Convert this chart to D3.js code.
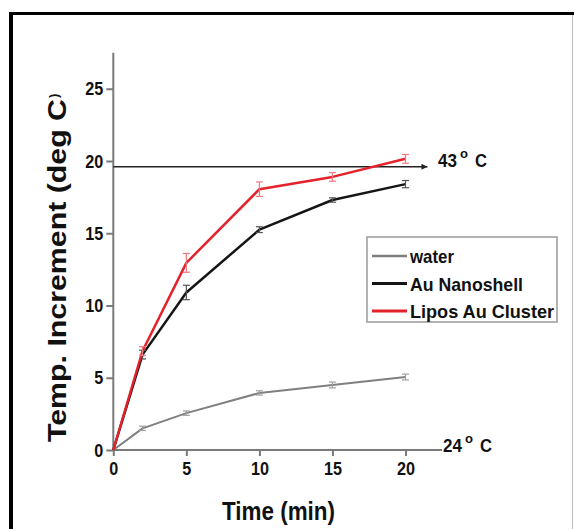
<!DOCTYPE html>
<html>
<head>
<meta charset="utf-8">
<script src="https://cdn.jsdelivr.net/npm/d3@7"></script>
<style>
  body { margin: 0; background: #fff; }
  .narrow { font-family: "Liberation Sans", Arial, sans-serif; font-weight: bold; }
</style>
</head>
<body>
<svg id="chart"></svg>
<script>
// time points (min)
const times = [0, 2, 5, 10, 15, 20];
// temperature increment (deg C)
const water = [0, 1.5, 2.55, 3.95, 4.5, 5.05];
const nanoshell = [0, 6.6, 10.9, 15.25, 17.3, 18.4];
const lipos = [0, 6.85, 12.95, 18.05, 18.9, 20.15];
// error bar half widths
const waterErr = [0, 0.15, 0.15, 0.15, 0.2, 0.2];
const nanoshellErr = [0, 0.3, 0.5, 0.2, 0.15, 0.25];
const liposErr = [0, 0.3, 0.65, 0.5, 0.3, 0.3];
const xTicks = [0, 5, 10, 15, 20];
const yTicks = [0, 5, 10, 15, 20, 25];
const thresholdValue = 19.6;

const series = [
    { name: 'water', values: water, err: waterErr, color: '#7f7f7f', errColor: '#a0a0a0', width: 2, textLen: 44 },
    { name: 'Au Nanoshell', values: nanoshell, err: nanoshellErr, color: '#151515', errColor: '#555', width: 2.5, textLen: 113 },
    { name: 'Lipos Au Cluster', values: lipos, err: liposErr, color: '#e3222b', errColor: '#ee7a80', width: 2.5, textLen: 144 }
];

const W = 574, H = 529;
const svg = d3.select('#chart').attr('width', W).attr('height', H);

// frame
svg.append('line').attr('x1', 11).attr('x2', 11).attr('y1', 12).attr('y2', H)
    .attr('stroke', '#000').attr('stroke-width', 4);
svg.append('line').attr('x1', 9).attr('x2', W).attr('y1', 13.5).attr('y2', 13.5)
    .attr('stroke', '#000').attr('stroke-width', 3);
svg.append('line').attr('x1', 572.5).attr('x2', 572.5).attr('y1', 15).attr('y2', H)
    .attr('stroke', '#bbb').attr('stroke-width', 1);

const xScale = d3.scaleLinear().domain([0, 20]).range([113.3, 405.5]);
const yScale = d3.scaleLinear().domain([0, 20]).range([450, 161]);

const chart = svg.append('g');

// y axis
const yAxis = d3.axisLeft(yScale).tickValues(yTicks).tickSize(7).tickPadding(3).tickSizeOuter(0);
const yAxisG = chart.append('g').attr('transform', `translate(${xScale(0)},0)`).call(yAxis);
yAxisG.select('.domain').attr('d', `M0,${yScale(27.5)}V${yScale(0)}`);

// x axis
const xAxis = d3.axisBottom(xScale).tickValues(xTicks).tickSize(6).tickPadding(6).tickSizeOuter(0);
const xAxisG = chart.append('g').attr('transform', `translate(0,${yScale(0)})`).call(xAxis);
xAxisG.select('.domain').attr('d', `M${xScale(0)},0H${xScale(22.5)}`);

chart.selectAll('.domain, .tick line').attr('stroke', '#7a7a7a').attr('stroke-width', 2);
chart.selectAll('.tick text').attr('class', 'narrow').attr('font-size', 19).attr('fill', '#111')
    .attr('textLength', function() { return this.textContent.length * 9; })
    .attr('lengthAdjust', 'spacingAndGlyphs');

// threshold arrow (43 C)
svg.append('defs').append('marker')
    .attr('id', 'arrow').attr('viewBox', '0 0 10 10').attr('refX', 10).attr('refY', 5)
    .attr('markerWidth', 9).attr('markerHeight', 6).attr('markerUnits', 'userSpaceOnUse')
    .attr('orient', 'auto')
    .append('path').attr('d', 'M0,0L10,5L0,10Z').attr('fill', '#222');
chart.append('line')
    .attr('x1', xScale(0)).attr('x2', xScale(21.5))
    .attr('y1', yScale(thresholdValue)).attr('y2', yScale(thresholdValue))
    .attr('stroke', '#222').attr('stroke-width', 1.6)
    .attr('marker-end', 'url(#arrow)');

function degLabel(x, y, num) {
    const g = svg.append('g').attr('class', 'narrow').attr('fill', '#111');
    g.append('text').attr('x', x).attr('y', y).attr('font-size', 19)
        .attr('textLength', 19).attr('lengthAdjust', 'spacingAndGlyphs').text(num);
    g.append('text').attr('x', x + 22).attr('y', y - 9).attr('font-size', 13)
        .attr('textLength', 8).attr('lengthAdjust', 'spacingAndGlyphs').text('o');
    g.append('text').attr('x', x + 37).attr('y', y).attr('font-size', 19)
        .attr('textLength', 12).attr('lengthAdjust', 'spacingAndGlyphs').text('C');
}
degLabel(438, 167, '43');
degLabel(443, 452, '24');

// lines
const line = d3.line().x((d, i) => xScale(times[i])).y(d => yScale(d));
series.forEach(s => {
    const g = chart.append('g');
    g.append('path').datum(s.values).attr('fill', 'none')
        .attr('stroke', s.color).attr('stroke-width', s.width)
        .attr('stroke-linejoin', 'round').attr('d', line);
    const bars = g.selectAll('.err').data(s.values.map((v, i) => ({ t: times[i], v: v, e: s.err[i] })).filter(d => d.e > 0))
        .enter().append('g').attr('class', 'err');
    bars.append('line')
        .attr('x1', d => xScale(d.t)).attr('x2', d => xScale(d.t))
        .attr('y1', d => yScale(d.v - d.e)).attr('y2', d => yScale(d.v + d.e))
        .attr('stroke', s.errColor).attr('stroke-width', 1.2);
    [-1, 1].forEach(sign => {
        bars.append('line')
            .attr('x1', d => xScale(d.t) - 3.5).attr('x2', d => xScale(d.t) + 3.5)
            .attr('y1', d => yScale(d.v + sign * d.e)).attr('y2', d => yScale(d.v + sign * d.e))
            .attr('stroke', s.errColor).attr('stroke-width', 1.2);
    });
});

// legend
const legend = svg.append('g').attr('transform', 'translate(367,237)');
legend.append('rect').attr('width', 190).attr('height', 85)
    .attr('fill', '#fff').attr('stroke', '#999').attr('stroke-width', 1.5);
series.forEach((s, i) => {
    const ly = 19 + i * 27.5;
    legend.append('line').attr('x1', 5).attr('x2', 40).attr('y1', ly).attr('y2', ly)
        .attr('stroke', s.color).attr('stroke-width', s.width + 0.5);
    legend.append('text').attr('class', 'narrow').attr('x', 43).attr('y', ly + 7)
        .attr('font-size', 19).attr('fill', '#111')
        .attr('textLength', s.textLen).attr('lengthAdjust', 'spacingAndGlyphs').text(s.name);
});

// axis titles
svg.append('text').attr('class', 'narrow')
    .attr('x', 222).attr('y', 520)
    .attr('font-size', 25).attr('fill', '#111')
    .attr('textLength', 113).attr('lengthAdjust', 'spacingAndGlyphs').text('Time (min)');

const yTitle = svg.append('g').attr('transform', 'translate(66,442) rotate(-90)')
    .attr('font-family', '"Liberation Sans", Arial, sans-serif').attr('font-weight', 'bold').attr('fill', '#111');
yTitle.append('text').attr('x', 0).attr('y', 0).attr('font-size', 25)
    .attr('textLength', 343).attr('lengthAdjust', 'spacingAndGlyphs').text('Temp. Increment (deg C');
yTitle.append('text').attr('x', 344).attr('y', -8).attr('font-size', 13).text(')');
</script>
</body>
</html>
